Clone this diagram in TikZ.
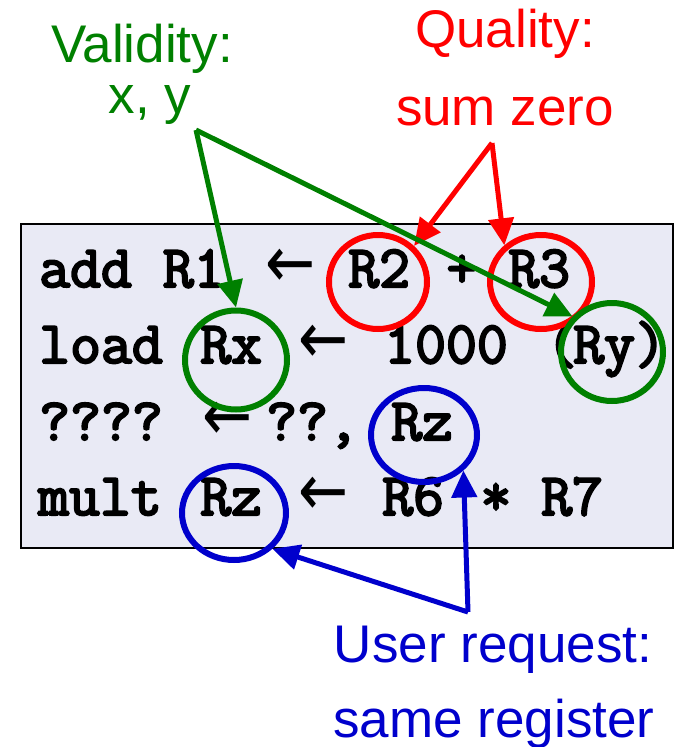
\documentclass[tikz,border=0pt]{standalone}
\usepackage{fontspec}
\setmainfont{Liberation Sans}
\newfontfamily\arrowfont{DejaVu Sans}
\newfontfamily\codefont{Latin Modern Mono}[FakeBold=3.5]
\usetikzlibrary{arrows.meta,shapes.geometric}
\definecolor{okgreen}{RGB}{0,128,0}
\definecolor{badred}{RGB}{255,0,0}
\definecolor{userblue}{RGB}{0,0,204}
\definecolor{panel}{RGB}{233,234,245}
\newcommand\leftpoint{\scalebox{1.15}[1.4]{←}}

\begin{document}
\begin{tikzpicture}[x=1pt,y=-1pt,
  code/.style={anchor=base west, inner sep=0pt, text=black,
    font=\codefont\bfseries\fontsize{60}{66}\selectfont},
  larrow/.style={anchor=base, inner sep=0pt, text=black,
    font=\arrowfont\fontsize{52}{60}\selectfont},
  note/.style={anchor=base, inner sep=0pt, text=#1,
    font=\fontsize{53}{60}\selectfont},
  ring/.style={ellipse, draw=#1, line width=6pt, inner sep=0pt},
  pointer/.style={draw=#1, line width=5pt, line join=miter,
    -{Triangle[length=27pt,width=25pt]}}]

\useasboundingbox (0,0) rectangle (677,747);

% code panel
\node[draw=black, line width=2.5pt, fill=panel, minimum width=652pt,
  minimum height=324pt, inner sep=0pt] (panel) at (347,386) {};

% line 1
\node[code] (l1op) at (39,287) {add R1};
\node[larrow] (l1ar) at (291,287) {\leftpoint};
\node[code] (tR2) at (348,287) {R2};
\node[code, anchor=base] (l1plus) at (462,287) {+};
\node[code] (tR3) at (508,287) {R3};
% line 2
\node[code] (l2op) at (39,363) {load};
\node[code] (tRx) at (200,363) {Rx};
\node[larrow] (l2ar) at (324,363) {\leftpoint};
\node[code] (l2imm) at (384,363) {1000};
\node[code, anchor=base] (l2par) at (562,363) {(};
\node[code] (tRy) at (573,363) {Ry)};
% line 3
\node[code] (l3op) at (39,440) {????};
\node[larrow] (l3ar) at (228,440) {\leftpoint};
\node[code] (l3src) at (266,440) {??,};
\node[code] (tRzA) at (391,440) {Rz};
% line 4
\node[code] (l4op) at (38,515) {mult};
\node[code] (tRzB) at (200,515) {Rz};
\node[larrow] (l4ar) at (324,515) {\leftpoint};
\node[code] (tR6) at (382,515) {R6};
\node[code, anchor=base] (l4mul) at (496,515) {*};
\node[code] (tR7) at (541,515) {R7};

% highlight rings
\node[ring=badred, minimum width=98pt, minimum height=94pt] (cR2) at (378,282) {};
\node[ring=badred, minimum width=102pt, minimum height=94pt] (cR3) at (541,282) {};
\node[ring=okgreen, minimum width=102pt, minimum height=99pt] (cRx) at (236,360) {};
\node[ring=okgreen, minimum width=102pt, minimum height=98pt] (cRy) at (612,352) {};
\node[ring=userblue, minimum width=106pt, minimum height=94pt] (cRzA) at (424,435) {};
\node[ring=userblue, minimum width=104pt, minimum height=94pt] (cRzB) at (234,513) {};

% annotations
\node[note=okgreen] (valid1) at (142,62) {Validity:};
\node[note=okgreen] (valid2) at (150,113) {x, y};
\node[note=badred] (qual1) at (505,47) {Quality:};
\node[note=badred] (qual2) at (505,125) {sum zero};
\node[note=userblue] (user1) at (493,662) {User request:};
\node[note=userblue] (user2) at (494,737) {same register};

% pointer hubs
\coordinate (gJ) at (196,130);
\coordinate (rJ) at (492,143);
\coordinate (bJ) at (468,612);

\draw[pointer=badred] (rJ) -- (cR2.45);
\draw[pointer=badred] (rJ) -- (cR3.135);
\draw[pointer=okgreen] (gJ) -- (cRx.90);
\draw[pointer=okgreen] (gJ) -- (cRy.138);
\draw[pointer=userblue] (bJ) -- (cRzA.-42);
\draw[pointer=userblue] (bJ) -- (cRzB.-43);
\end{tikzpicture}
\end{document}
